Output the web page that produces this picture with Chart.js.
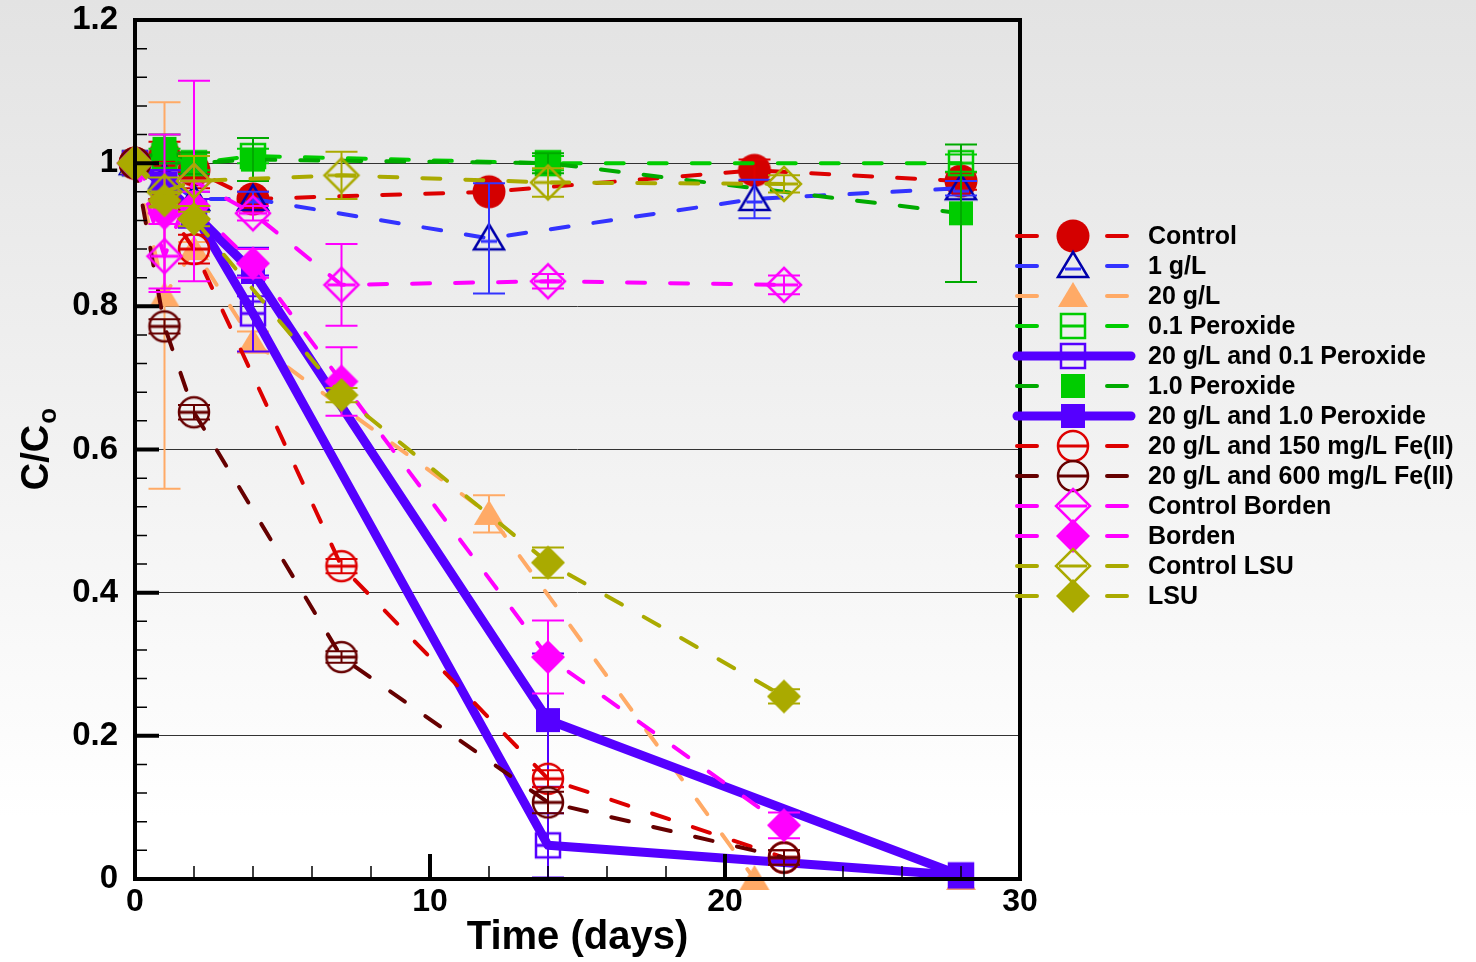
<!DOCTYPE html>
<html>
<head>
<meta charset="utf-8">
<title>C/Co vs time</title>
<script src="https://cdn.jsdelivr.net/npm/chart.js@4.4.1/dist/chart.umd.min.js"></script>
<style>
  html, body { margin: 0; padding: 0; }
  body { width: 1476px; height: 962px; overflow: hidden;
         background: linear-gradient(to bottom, #e3e3e3 0%, #f3f3f3 50%, #ffffff 85%); }
  #wrap { position: relative; width: 1476px; height: 962px; }
</style>
</head>
<body>
<div id="wrap"><canvas id="chart-decay"></canvas></div>
<script>
// sampling days, C/Co values and error half-widths, per series
const tControl = [0, 1, 2, 4, 12, 21, 28];
const yControl = [1.0, 1.01, 0.99, 0.95, 0.96, 0.99, 0.975];
const eControl = [0, 0.02, 0.025, 0.01, 0, 0.015, 0.012];

const t1gL = [0, 1, 2, 4, 12, 21, 28];
const y1gL = [1.0, 0.98, 0.95, 0.95, 0.895, 0.95, 0.965];
const e1gL = [0, 0.02, 0.01, 0.01, 0.077, 0.027, 0.01];

const t20gL = [0, 1, 2, 4, 12, 21, 28];
const y20gL = [1.0, 0.815, 0.88, 0.75, 0.51, 0.0, 0.0];
const e20gL = [0, 0.27, 0.01, 0.015, 0.026, 0, 0];

const tPerox01 = [0, 1, 2, 4, 14, 28];
const yPerox01 = [1.0, 1.01, 1.0, 1.01, 1.0, 1.0];
const ePerox01 = [0, 0.01, 0.01, 0.01, 0.01, 0.012];

const t20gLPerox01 = [0, 1, 2, 4, 14, 28];
const y20gLPerox01 = [1.0, 0.97, 0.93, 0.79, 0.047, 0.005];
const e20gLPerox01 = [0, 0.02, 0.02, 0.053, 0.045, 0];

const tPerox10 = [0, 1, 2, 4, 14, 28];
const yPerox10 = [1.0, 1.02, 1.0, 1.005, 1.0, 0.93];
const ePerox10 = [0, 0.02, 0.015, 0.03, 0.014, 0.096];

const t20gLPerox10 = [0, 1, 2, 4, 14, 28];
const y20gLPerox10 = [1.0, 0.97, 0.93, 0.848, 0.222, 0.005];
const e20gLPerox10 = [0, 0.02, 0.02, 0.034, 0.093, 0];

const tFe150 = [0, 1, 2, 7, 14, 22];
const yFe150 = [1.0, 0.94, 0.88, 0.437, 0.14, 0.03];
const eFe150 = [0, 0.01, 0.02, 0.01, 0.012, 0.01];

const tFe600 = [0, 1, 2, 7, 14, 22];
const yFe600 = [1.0, 0.772, 0.652, 0.31, 0.107, 0.03];
const eFe600 = [0, 0.01, 0.01, 0.008, 0.015, 0.01];

const tCtrlBorden = [0, 1, 2, 4, 7, 14, 22];
const yCtrlBorden = [1.0, 0.87, 0.975, 0.93, 0.83, 0.835, 0.83];
const eCtrlBorden = [0, 0.045, 0.14, 0.01, 0.057, 0.01, 0.013];

const tBorden = [0, 1, 2, 4, 7, 14, 22];
const yBorden = [1.0, 0.93, 0.94, 0.86, 0.695, 0.31, 0.075];
const eBorden = [0, 0.11, 0.02, 0.02, 0.048, 0.051, 0.018];

const tCtrlLSU = [0, 1, 2, 7, 14, 22];
const yCtrlLSU = [1.0, 0.96, 0.975, 0.983, 0.973, 0.971];
const eCtrlLSU = [0, 0.02, 0.035, 0.033, 0.02, 0.012];

const tLSU = [0, 1, 2, 7, 14, 22];
const yLSU = [1.0, 0.948, 0.922, 0.676, 0.442, 0.255];
const eLSU = [0, 0.01, 0.01, 0.01, 0.021, 0.01];

const seriesNames = ['Control', '1 g/L', '20 g/L', '0.1 Peroxide', '20 g/L and 0.1 Peroxide',
  '1.0 Peroxide', '20 g/L and 1.0 Peroxide', '20 g/L and 150 mg/L Fe(II)',
  '20 g/L and 600 mg/L Fe(II)', 'Control Borden', 'Borden', 'Control LSU', 'LSU'];

const xTicks = [0, 10, 20, 30];
const yTicks = [0, 0.2, 0.4, 0.6, 0.8, 1, 1.2];

const FONT = '"Liberation Sans", Arial, sans-serif';

// marker glyphs drawn once on small canvases, used as point styles
function makeMarker(shape, fill, stroke, bar) {
    const c = document.createElement('canvas');
    c.width = 42; c.height = 42;
    const g = c.getContext('2d');
    g.translate(21, 21);
    g.beginPath();
    if (shape === 'circle') g.arc(0, 0, fill ? 16.5 : 15, 0, Math.PI * 2);
    if (shape === 'triangle') { g.moveTo(0, -14); g.lineTo(15, 11); g.lineTo(-15, 11); g.closePath(); }
    if (shape === 'square') g.rect(-12, -12, 24, 24);
    if (shape === 'diamond') { g.moveTo(0, -17); g.lineTo(17, 0); g.lineTo(0, 17); g.lineTo(-17, 0); g.closePath(); }
    if (fill) {
        g.fillStyle = fill;
        g.fill();
    } else {
        g.lineWidth = 2.5;
        g.strokeStyle = stroke;
        g.stroke();
    }
    if (bar) {
        const half = shape === 'triangle' ? 8 : (shape === 'square' ? 12 : 14);
        const yb = shape === 'triangle' ? 3 : 0;
        g.beginPath();
        g.moveTo(-half, yb); g.lineTo(half, yb);
        g.lineWidth = 3;
        g.strokeStyle = bar;
        g.stroke();
    }
    return c;
}

const styles = [
    {line: '#dd0000', marker: makeMarker('circle', '#d40000'), thick: false},
    {line: '#3333ff', marker: makeMarker('triangle', null, '#0000aa', '#3333ff'), thick: false},
    {line: '#ffaa66', marker: makeMarker('triangle', '#ffaa66'), thick: false},
    {line: '#00cc00', marker: makeMarker('square', null, '#00cc00', '#00cc00'), thick: false},
    {line: '#5500ff', marker: makeMarker('square', null, '#5500ff', '#5500ff'), thick: true},
    {line: '#00aa00', marker: makeMarker('square', '#00cc00'), thick: false},
    {line: '#5500ff', marker: makeMarker('square', '#5500ff'), thick: true},
    {line: '#dd0000', marker: makeMarker('circle', null, '#dd0000', '#dd0000'), thick: false},
    {line: '#660000', marker: makeMarker('circle', null, '#660000', '#660000'), thick: false},
    {line: '#ff00ff', marker: makeMarker('diamond', null, '#ff00ff', '#ff00ff'), thick: false},
    {line: '#ff00ff', marker: makeMarker('diamond', '#ff00ff'), thick: false},
    {line: '#aaaa00', marker: makeMarker('diamond', null, '#aaaa00', '#aaaa00'), thick: false},
    {line: '#aaaa00', marker: makeMarker('diamond', '#aaaa00'), thick: false}
];

const seriesData = [
    [tControl, yControl, eControl],
    [t1gL, y1gL, e1gL],
    [t20gL, y20gL, e20gL],
    [tPerox01, yPerox01, ePerox01],
    [t20gLPerox01, y20gLPerox01, e20gLPerox01],
    [tPerox10, yPerox10, ePerox10],
    [t20gLPerox10, y20gLPerox10, e20gLPerox10],
    [tFe150, yFe150, eFe150],
    [tFe600, yFe600, eFe600],
    [tCtrlBorden, yCtrlBorden, eCtrlBorden],
    [tBorden, yBorden, eBorden],
    [tCtrlLSU, yCtrlLSU, eCtrlLSU],
    [tLSU, yLSU, eLSU]
];

const datasets = seriesData.map(function(s, i) {
    const st = styles[i];
    return {
        label: seriesNames[i],
        data: s[0].map((t, k) => ({x: t, y: s[1][k]})),
        errorBars: s[2],
        showLine: true,
        borderColor: st.line,
        borderWidth: st.thick ? 9 : 4,
        borderDash: st.thick ? [] : [18, 25],
        borderCapStyle: 'round',
        borderJoinStyle: 'round',
        pointStyle: st.marker,
        pointRadius: 3,
        tension: 0,
        clip: false,
        order: 13 - i
    };
});

// error bars, drawn right after their own series
const errorBarPlugin = {
    id: 'errorBars',
    afterDatasetDraw(chart, args) {
        const ds = chart.data.datasets[args.index];
        const errs = ds.errorBars;
        if (!errs) return;
        const {ctx, scales: {x, y}} = chart;
        ctx.save();
        ctx.strokeStyle = ds.borderColor;
        ctx.lineWidth = 2;
        ds.data.forEach(function(p, k) {
            if (!errs[k]) return;
            const px = x.getPixelForValue(p.x);
            const top = y.getPixelForValue(p.y + errs[k]);
            const bot = y.getPixelForValue(Math.max(0, p.y - errs[k]));
            ctx.beginPath();
            ctx.moveTo(px, top); ctx.lineTo(px, bot);
            ctx.moveTo(px - 16, top); ctx.lineTo(px + 16, top);
            ctx.moveTo(px - 16, bot); ctx.lineTo(px + 16, bot);
            ctx.stroke();
        });
        ctx.restore();
    }
};

// frame, inward ticks, y title with subscript, legend
const framePlugin = {
    id: 'frame',
    afterDatasetsDraw(chart) {
        const {ctx, chartArea: a, scales: {x, y}} = chart;
        ctx.save();
        ctx.strokeStyle = '#000';
        // minor ticks
        ctx.lineWidth = 1.5;
        ctx.beginPath();
        for (let v = 0; v <= 1.2001; v += 0.04) {
            const py = y.getPixelForValue(v);
            ctx.moveTo(a.left, py); ctx.lineTo(a.left + 12, py);
        }
        for (let d = 0; d <= 30; d += 2) {
            const px = x.getPixelForValue(d);
            ctx.moveTo(px, a.bottom); ctx.lineTo(px, a.bottom - 13);
        }
        ctx.stroke();
        // major ticks
        ctx.lineWidth = 4;
        ctx.beginPath();
        yTicks.forEach(function(v) {
            const py = y.getPixelForValue(v);
            ctx.moveTo(a.left, py); ctx.lineTo(a.left + 24, py);
        });
        xTicks.forEach(function(d) {
            const px = x.getPixelForValue(d);
            ctx.moveTo(px, a.bottom); ctx.lineTo(px, a.bottom - 25);
        });
        ctx.stroke();
        ctx.lineWidth = 4;
        ctx.strokeRect(a.left, a.top, a.right - a.left, a.bottom - a.top);
        ctx.restore();
    },
    afterDraw(chart) {
        const {ctx, chartArea: a} = chart;
        ctx.save();
        // y title C/Co
        ctx.fillStyle = '#000';
        ctx.translate(48, (a.top + a.bottom) / 2);
        ctx.rotate(-Math.PI / 2);
        ctx.font = 'bold 38px ' + FONT;
        const w1 = ctx.measureText('C/C').width;
        ctx.font = 'bold 26px ' + FONT;
        const w2 = ctx.measureText('o').width;
        ctx.textBaseline = 'alphabetic';
        ctx.font = 'bold 38px ' + FONT;
        ctx.fillText('C/C', -(w1 + w2) / 2, 0);
        ctx.font = 'bold 26px ' + FONT;
        ctx.fillText('o', -(w1 + w2) / 2 + w1 + 1, 8);
        ctx.restore();

        // legend
        ctx.save();
        ctx.font = 'bold 25px ' + FONT;
        ctx.textBaseline = 'middle';
        ctx.fillStyle = '#000';
        chart.data.datasets.forEach(function(ds, i) {
            const ry = 236 + i * 30;
            const st = styles[i];
            ctx.strokeStyle = ds.borderColor;
            ctx.lineCap = 'round';
            ctx.beginPath();
            if (st.thick) {
                ctx.lineWidth = 9;
                ctx.moveTo(1017, ry); ctx.lineTo(1131, ry);
            } else {
                ctx.lineWidth = 4;
                ctx.moveTo(1017, ry); ctx.lineTo(1037, ry);
                ctx.moveTo(1107, ry); ctx.lineTo(1127, ry);
            }
            ctx.stroke();
            ctx.drawImage(st.marker, 1073 - 21, ry - 21);
            ctx.fillText(ds.label, 1148, ry + 1);
        });
        ctx.restore();
    }
};

var chartDecay = new Chart(document.getElementById('chart-decay'), {
    type: 'scatter',
    data: { datasets: datasets },
    plugins: [errorBarPlugin, framePlugin],
    options: {
        responsive: true,
        maintainAspectRatio: false,
        animation: false,
        events: [],
        layout: { padding: { top: 20, right: 456, left: 0, bottom: 0 } },
        plugins: { legend: { display: false }, tooltip: { enabled: false } },
        scales: {
            x: {
                type: 'linear',
                min: 0,
                max: 30,
                afterBuildTicks: s => { s.ticks = xTicks.map(v => ({value: v})); },
                afterFit: s => { s.height = 83; s.paddingLeft = 0; s.paddingRight = 0; },
                grid: { display: false, drawTicks: false },
                border: { display: false },
                ticks: { color: '#000', padding: 4, font: { family: FONT, size: 32, weight: 'bold' } },
                title: {
                    display: true,
                    text: 'Time (days)',
                    color: '#000',
                    padding: 0,
                    font: { family: FONT, size: 40, weight: 'bold', lineHeight: 1.2 }
                }
            },
            y: {
                min: 0,
                max: 1.2,
                afterBuildTicks: s => { s.ticks = yTicks.map(v => ({value: v})); },
                afterFit: s => { s.width = 135; s.paddingTop = 0; s.paddingBottom = 0; },
                grid: { color: '#333', lineWidth: 1, drawTicks: false },
                border: { display: false },
                ticks: {
                    color: '#000',
                    padding: 17,
                    font: { family: FONT, size: 33, weight: 'bold' },
                    callback: v => String(v)
                }
            }
        }
    }
});
</script>
</body>
</html>
